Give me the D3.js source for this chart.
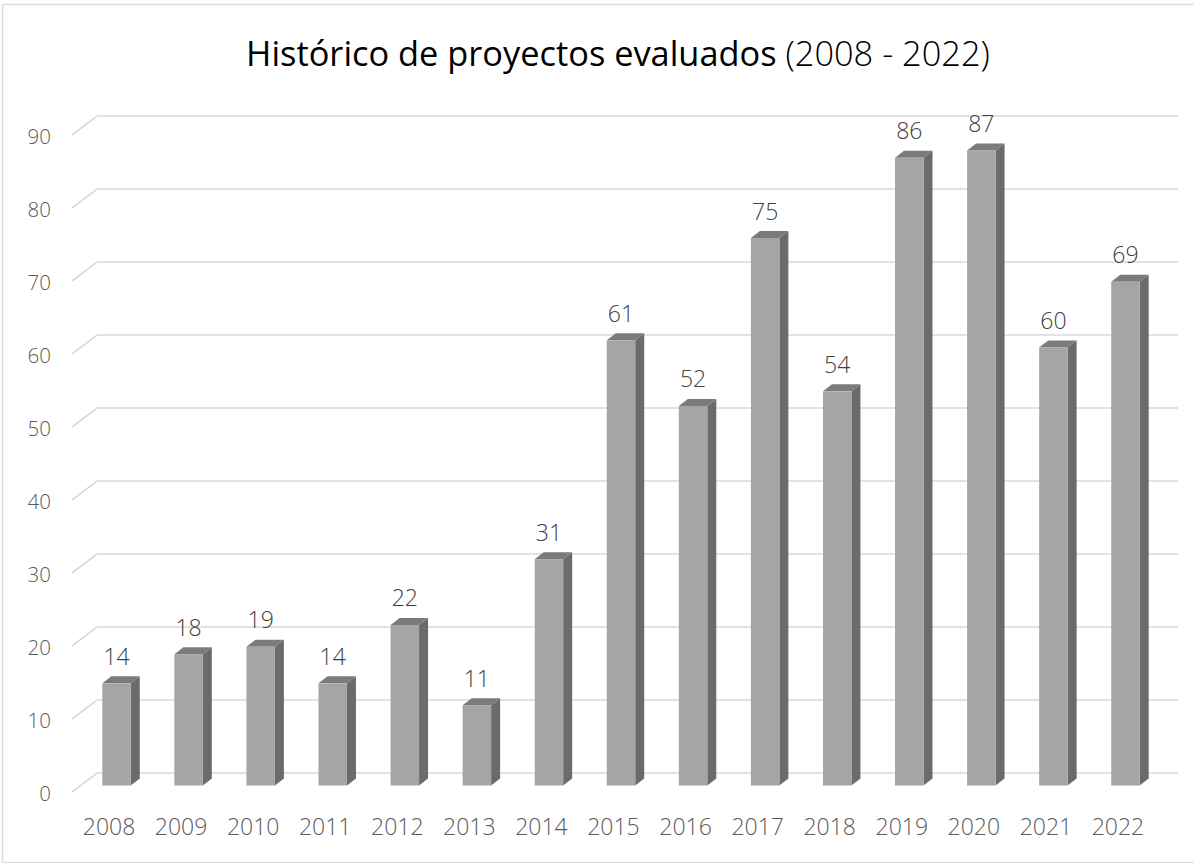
<!DOCTYPE html>
<html>
<head>
<meta charset="utf-8">
<script src="https://cdn.jsdelivr.net/npm/d3@7"></script>
<style>
  body { margin: 0; background: #fff; }
  text { font-family: "Open Sans", "DejaVu Sans", sans-serif; }
</style>
</head>
<body>
<script>
// datos
var years = ["2008", "2009", "2010", "2011", "2012", "2013", "2014", "2015", "2016", "2017", "2018", "2019", "2020", "2021", "2022"];
var projects = [14, 18, 19, 14, 22, 11, 31, 61, 52, 75, 54, 86, 87, 60, 69];
var yTicks = [0, 10, 20, 30, 40, 50, 60, 70, 80, 90];
var titleMain = "Histórico de proyectos evaluados";
var titleSub = " (2008 - 2022)";

var width = 1194, height = 863;

// front plane of the 3D box, and depth offset to the back wall
var plotLeft = 72, plotRight = 1153, plotBase = 792, plotTop = 135;
var depthX = 25, depthY = -19;

var svg = d3.select("body").append("svg")
  .attr("width", width)
  .attr("height", height);

svg.append("rect")
  .attr("x", 2.5).attr("y", 4.5)
  .attr("width", 1200).attr("height", 858)
  .attr("fill", "none")
  .attr("stroke", "#d9d9d9")
  .attr("stroke-width", 1.3);

var x = d3.scaleBand()
  .domain(years)
  .range([plotLeft, plotRight])
  .paddingInner(0).paddingOuter(0);

var y = d3.scaleLinear()
  .domain([0, 90])
  .range([plotBase, plotTop]);

// gridlines: back wall + diagonal on the left side
var grid = svg.append("g").attr("class", "grid");
yTicks.forEach(function (t) {
  grid.append("path")
    .attr("d", "M" + plotLeft + "," + y(t) +
               "L" + (plotLeft + depthX) + "," + (y(t) + depthY) +
               "L" + (plotRight + depthX) + "," + (y(t) + depthY))
    .attr("fill", "none")
    .attr("stroke", "#d9d9d9")
    .attr("stroke-width", 1.6);
});

// y labels
svg.append("g").selectAll("text")
  .data(yTicks)
  .enter().append("text")
  .attr("x", 51)
  .attr("y", function (d) { return y(d) + 9; })
  .attr("text-anchor", "end")
  .attr("font-size", 20.5)
  .attr("font-weight", 300)
  .attr("fill", "#595959")
  .text(function (d) { return d; });

// x labels
svg.append("g").selectAll("text")
  .data(years)
  .enter().append("text")
  .attr("x", function (d) { return x(d) + x.bandwidth() / 2 + 1; })
  .attr("y", 834.5)
  .attr("text-anchor", "middle")
  .attr("font-size", 23)
  .attr("font-weight", 300)
  .attr("fill", "#595959")
  .text(function (d) { return d; });

// bars (3D columns)
var barW = x.bandwidth() * 0.395;
var f0 = 0.34, bdx = 9, bdy = -7;
var unit = y(0) - y(1);

var bars = svg.append("g").selectAll("g")
  .data(projects)
  .enter().append("g");

function fx(i) { return x(years[i]) + (x.bandwidth() - barW) / 2 + f0 * depthX; }
function fb() { return y(0) + f0 * depthY; }
function ft(d) { return fb() - d * unit; }

// side face
bars.append("path")
  .attr("d", function (d, i) {
    var x1 = fx(i) + barW;
    return "M" + x1 + "," + ft(d) + "L" + (x1 + bdx) + "," + (ft(d) + bdy) +
      "L" + (x1 + bdx) + "," + (fb() + bdy) + "L" + x1 + "," + fb() + "Z";
  })
  .attr("fill", "#6b6b6b");

// top face
bars.append("path")
  .attr("d", function (d, i) {
    var x0 = fx(i), x1 = x0 + barW;
    return "M" + x0 + "," + ft(d) + "L" + (x0 + bdx) + "," + (ft(d) + bdy) +
      "L" + (x1 + bdx) + "," + (ft(d) + bdy) + "L" + x1 + "," + ft(d) + "Z";
  })
  .attr("fill", "#7b7b7b");

// front face
bars.append("rect")
  .attr("x", function (d, i) { return fx(i); })
  .attr("y", function (d) { return ft(d); })
  .attr("width", barW)
  .attr("height", function (d) { return fb() - ft(d); })
  .attr("fill", "#a5a5a5");

// value labels
bars.append("text")
  .attr("x", function (d, i) { return fx(i) + barW / 2; })
  .attr("y", function (d) { return ft(d) - 18.5; })
  .attr("text-anchor", "middle")
  .attr("font-size", 23)
  .attr("font-weight", 300)
  .attr("fill", "#404040")
  .text(function (d) { return d; });

// title
var title = svg.append("text")
  .attr("x", 618)
  .attr("y", 66)
  .attr("text-anchor", "middle")
  .attr("font-size", 36)
  .attr("fill", "#000");
title.append("tspan").attr("font-weight", 400).text(titleMain);
title.append("tspan").attr("font-weight", 300).text(titleSub);

// fit title width to the reference (about 744px)
var tw = title.node().getComputedTextLength();
title.attr("font-size", 36 * 744 / tw);
</script>
</body>
</html>
